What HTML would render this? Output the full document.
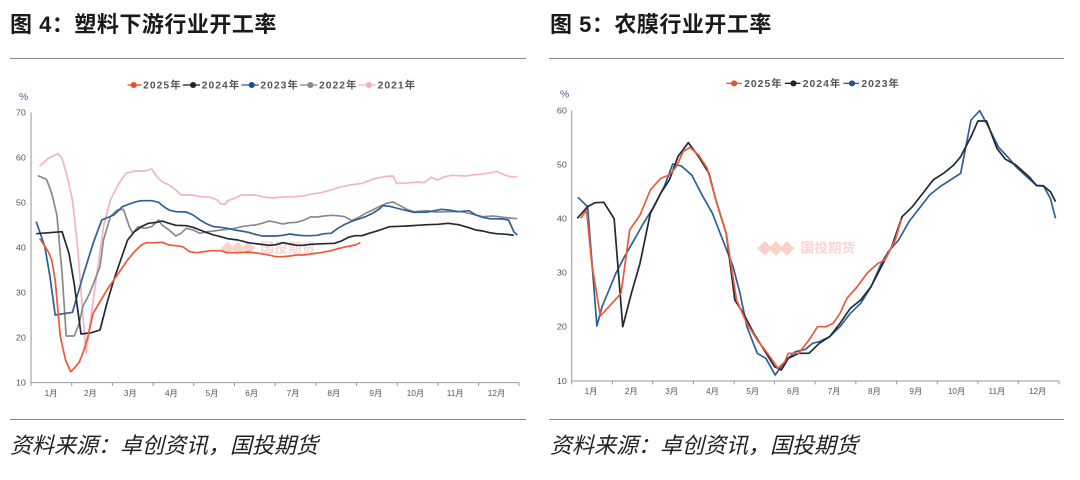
<!DOCTYPE html>
<html><head><meta charset="utf-8"><style>
html,body{margin:0;padding:0;background:#fff;}
body{width:1080px;height:480px;position:relative;overflow:hidden;font-family:"Liberation Sans","Noto Sans CJK SC",sans-serif;}
.t{position:absolute;top:7px;font-size:22px;font-weight:bold;color:#1a1a1a;letter-spacing:0.5px;}
.hl{position:absolute;height:1px;background:#888;}
.src{position:absolute;top:428px;font-size:22px;font-style:italic;color:#222;}
svg{position:absolute;top:60px;}
</style></head><body>
<div class="t" style="left:10px">图 4：塑料下游行业开工率</div>
<div class="t" style="left:550px">图 5：农膜行业开工率</div>
<div class="hl" style="left:10px;width:516px;top:58px"></div>
<div class="hl" style="left:549px;width:515px;top:58px"></div>
<div class="hl" style="left:10px;width:516px;top:419px"></div>
<div class="hl" style="left:549px;width:515px;top:419px"></div>
<div class="src" style="left:10px">资料来源：卓创资讯，国投期货</div>
<div class="src" style="left:550px">资料来源：卓创资讯，国投期货</div>

<svg style="left:0" width="540" height="340" viewBox="0 0 1566 1020" preserveAspectRatio="none">
<g font-family="Liberation Sans, Noto Sans CJK SC, sans-serif" fill="#555" font-size="26">
<text x="55" y="120" fill="#4a5a9a" font-size="30">%</text>
<text x="75" y="166" text-anchor="end">70</text><text x="75" y="301" text-anchor="end">60</text>
<text x="75" y="437" text-anchor="end">50</text><text x="75" y="572" text-anchor="end">40</text>
<text x="75" y="707" text-anchor="end">30</text><text x="75" y="842" text-anchor="end">20</text>
<text x="75" y="977" text-anchor="end">10</text>
<g text-anchor="middle" font-size="24"><text x="148" y="1008">1月</text><text x="262" y="1008">2月</text><text x="378" y="1008">3月</text><text x="497" y="1008">4月</text><text x="615" y="1008">5月</text><text x="730" y="1008">6月</text><text x="850" y="1008">7月</text><text x="968" y="1008">8月</text><text x="1090" y="1008">9月</text><text x="1205" y="1008">10月</text><text x="1320" y="1008">11月</text><text x="1440" y="1008">12月</text></g>
</g>
<path d="M90 157V968H1505" stroke="#999" stroke-width="3" fill="none"/>
<g stroke="#999" stroke-width="3"><path d="M90 968v10M208 968v10M326 968v10M444 968v10M562 968v10M680 968v10M798 968v10M916 968v10M1034 968v10M1152 968v10M1270 968v10M1388 968v10M1505 968v10"/></g>
<g font-family="Liberation Sans, Noto Sans CJK SC, sans-serif" font-size="30" font-weight="bold" fill="#555" letter-spacing="3">
<line x1="370" y1="75" x2="410" y2="75" stroke="#e8502e" stroke-width="4"/><circle cx="388" cy="75" r="9" fill="#e8502e"/><text x="415" y="86">2025年</text>
<line x1="530" y1="75" x2="580" y2="75" stroke="#222" stroke-width="4"/><circle cx="560" cy="75" r="9" fill="#222"/><text x="585" y="86">2024年</text>
<line x1="700" y1="75" x2="750" y2="75" stroke="#2e5c9a" stroke-width="4"/><circle cx="730" cy="75" r="9" fill="#1f4f95"/><text x="755" y="86">2023年</text>
<line x1="870" y1="75" x2="920" y2="75" stroke="#888" stroke-width="4"/><circle cx="900" cy="75" r="9" fill="#888"/><text x="925" y="86">2022年</text>
<line x1="1040" y1="75" x2="1090" y2="75" stroke="#f2b0c0" stroke-width="4"/><circle cx="1070" cy="75" r="9" fill="#f2b0c0"/><text x="1095" y="86">2021年</text>
</g>
<g opacity="0.35"><path d="M640 565l20-20 20 20-20 20zM670 565l20-20 20 20-20 20zM700 565l20-20 20 20-20 20z" fill="#f08060"/><text x="755" y="578" font-size="40" font-weight="bold" fill="#e88" font-family="Noto Sans CJK SC, sans-serif">国投期货</text></g>
<g fill="none" stroke-width="5" stroke-linejoin="round">
<polyline stroke="#f4b4c4" points="115,318 140,295 168,280 180,295 195,350 210,420 225,560 240,760 250,880 265,760 280,650 300,500 320,420 345,370 365,340 390,333 420,333 440,327 455,350 470,365 490,375 510,390 525,405 540,405 560,405 580,410 610,412 630,420 640,432 655,432 660,422 680,415 700,405 720,405 740,405 760,410 790,414 820,411 850,410 880,408 900,403 930,398 960,390 980,383 1000,378 1020,374 1050,370 1070,362 1090,355 1120,349 1140,348 1150,370 1170,370 1190,368 1210,366 1230,368 1250,352 1270,360 1290,350 1310,346 1330,347 1350,348 1370,345 1390,343 1420,339 1440,334 1460,344 1480,350 1500,350"/>
<polyline stroke="#8a8a8a" points="110,347 135,358 150,400 165,465 180,640 192,828 215,828 230,790 240,740 260,700 290,620 300,540 320,470 340,450 358,448 375,500 385,520 400,500 420,505 440,500 460,480 470,495 490,510 510,528 525,520 540,505 560,510 580,520 600,515 620,513 640,510 660,508 680,505 700,500 720,497 740,495 760,490 780,483 800,487 820,492 840,488 860,487 880,481 900,471 920,471 940,468 960,466 980,467 1000,470 1020,482 1040,472 1060,460 1080,450 1100,440 1120,430 1140,426 1160,437 1180,448 1200,455 1240,452 1260,456 1300,455 1340,455 1380,465 1400,470 1430,468 1460,472 1500,476"/>
<polyline stroke="#2e6099" points="105,485 130,560 145,650 160,765 210,757 240,650 270,550 295,480 330,465 355,440 375,432 395,425 410,422 440,422 460,427 475,440 490,450 510,455 540,456 560,465 580,480 600,492 620,500 640,502 660,505 680,510 700,513 720,517 740,523 760,528 780,528 800,528 820,526 840,522 860,525 880,527 900,527 920,526 940,521 960,520 980,505 1000,493 1020,484 1040,477 1060,470 1080,460 1100,447 1110,437 1130,439 1160,447 1180,452 1200,457 1240,456 1260,452 1280,448 1300,450 1330,455 1360,452 1380,465 1400,472 1420,476 1460,477 1475,480 1490,515 1500,525"/>
<polyline stroke="#222a36" points="105,521 180,515 200,580 215,670 235,822 265,818 290,810 310,730 330,660 350,600 370,540 390,515 410,500 430,490 455,487 470,483 490,490 510,496 540,497 560,502 580,510 600,518 620,525 640,530 660,536 690,540 720,548 750,552 780,556 800,554 820,548 840,552 860,556 880,556 900,553 940,551 970,550 990,543 1010,532 1030,527 1050,527 1070,520 1090,514 1110,507 1130,500 1160,499 1180,498 1210,496 1240,494 1270,493 1300,490 1330,494 1360,503 1380,510 1400,513 1420,518 1440,521 1470,523 1490,526"/>
<polyline stroke="#ec5a3a" points="115,535 140,575 150,600 160,660 175,830 190,900 205,935 215,925 230,906 240,880 255,830 270,760 290,725 310,690 330,660 350,630 370,600 390,575 410,555 425,548 450,548 470,547 490,555 510,557 530,560 550,575 570,578 590,575 610,572 640,572 660,578 690,578 720,576 750,580 780,585 800,590 820,590 840,588 860,585 880,585 900,582 930,578 960,572 980,566 1000,561 1030,555 1045,548"/>
</g>
</svg>

<svg style="left:540px" width="540" height="340" viewBox="0 0 1566 1020" preserveAspectRatio="none">
<g font-family="Liberation Sans, Noto Sans CJK SC, sans-serif" fill="#555" font-size="26">
<text x="58" y="112" fill="#4a5a9a" font-size="30">%</text>
<text x="78" y="161" text-anchor="end">60</text><text x="78" y="323" text-anchor="end">50</text>
<text x="78" y="485" text-anchor="end">40</text><text x="78" y="647" text-anchor="end">30</text>
<text x="78" y="809" text-anchor="end">20</text><text x="78" y="972" text-anchor="end">10</text>
<g text-anchor="middle" font-size="24"><text x="148" y="1002">1月</text><text x="265" y="1002">2月</text><text x="382" y="1002">3月</text><text x="500" y="1002">4月</text><text x="617" y="1002">5月</text><text x="735" y="1002">6月</text><text x="853" y="1002">7月</text><text x="970" y="1002">8月</text><text x="1090" y="1002">9月</text><text x="1208" y="1002">10月</text><text x="1325" y="1002">11月</text><text x="1443" y="1002">12月</text></g>
</g>
<path d="M92 152V963H1505" stroke="#999" stroke-width="3" fill="none"/>
<g stroke="#999" stroke-width="3"><path d="M92 963v10M210 963v10M327 963v10M445 963v10M563 963v10M680 963v10M798 963v10M916 963v10M1034 963v10M1152 963v10M1270 963v10M1387 963v10M1505 963v10"/></g>
<g font-family="Liberation Sans, Noto Sans CJK SC, sans-serif" font-size="30" font-weight="bold" fill="#555" letter-spacing="3">
<line x1="540" y1="70" x2="585" y2="70" stroke="#e8502e" stroke-width="4"/><circle cx="563" cy="70" r="9" fill="#e8502e"/><text x="592" y="81">2025年</text>
<line x1="710" y1="70" x2="755" y2="70" stroke="#222" stroke-width="4"/><circle cx="735" cy="70" r="9" fill="#222"/><text x="762" y="81">2024年</text>
<line x1="880" y1="70" x2="925" y2="70" stroke="#2e5c9a" stroke-width="4"/><circle cx="905" cy="70" r="9" fill="#1f4f95"/><text x="932" y="81">2023年</text>
</g>
<g opacity="0.35"><path d="M630 565l22-22 22 22-22 22zM662 565l22-22 22 22-22 22zM694 565l22-22 22 22-22 22z" fill="#f08060"/><text x="755" y="578" font-size="40" font-weight="bold" fill="#e88" font-family="Noto Sans CJK SC, sans-serif">国投期货</text></g>
<g fill="none" stroke-width="5" stroke-linejoin="round">
<polyline stroke="#2e6099" points="110,412 138,440 165,798 180,740 200,690 220,640 245,590 270,545 300,490 330,440 360,380 385,312 410,318 440,345 470,405 500,460 530,540 560,620 580,700 600,800 630,880 655,895 682,945 710,905 740,875 770,868 790,850 810,845 840,830 870,800 900,760 930,730 960,680 990,610 1010,575 1040,540 1070,485 1100,445 1130,405 1160,380 1190,360 1220,340 1250,180 1275,152 1300,200 1330,262 1360,295 1380,320 1420,358 1440,376 1460,377 1480,415 1495,475"/>
<polyline stroke="#222a36" points="108,475 138,440 160,428 185,427 215,476 240,800 265,700 290,610 320,460 350,400 375,360 400,290 430,248 460,290 490,340 510,420 540,520 565,720 590,760 620,820 650,870 680,920 700,930 720,895 750,880 780,880 810,850 840,830 870,790 900,745 930,720 960,680 990,620 1020,560 1050,470 1080,440 1110,400 1140,360 1170,340 1200,315 1220,290 1250,230 1270,183 1295,183 1325,265 1350,298 1380,315 1420,352 1440,377 1460,378 1480,395 1495,425"/>
<polyline stroke="#ec5a3a" points="118,475 135,450 150,610 175,768 200,740 235,700 260,510 290,465 320,390 350,355 375,345 395,320 415,275 435,262 460,285 485,325 510,420 540,520 570,720 600,790 630,840 660,880 690,925 710,905 720,880 750,880 780,840 805,800 830,800 850,790 870,760 890,715 920,680 950,638 980,610 1000,600 1030,540 1048,478"/>
</g>
</svg>
</body></html>
